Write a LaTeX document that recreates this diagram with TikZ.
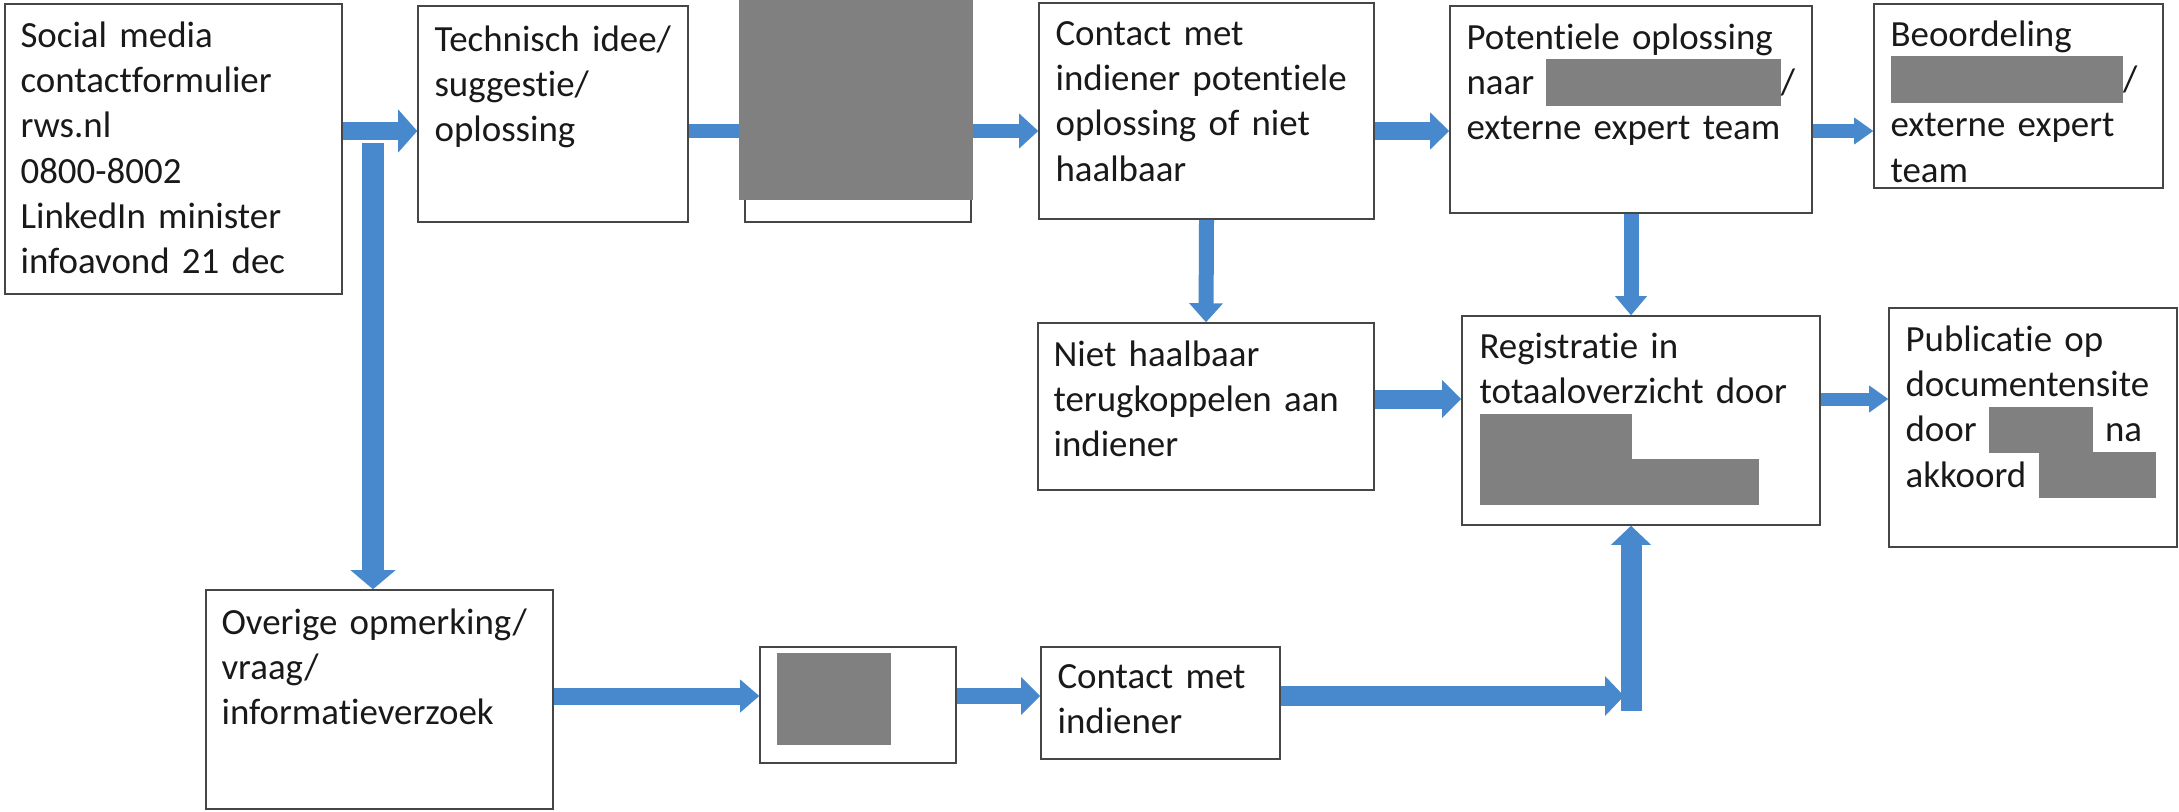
\documentclass[tikz,border=0pt]{standalone}
\usepackage{fontspec}
\setmainfont{Carlito}[Ligatures=NoCommon]
\usetikzlibrary{arrows.meta,fit}
\definecolor{flowblue}{RGB}{72,136,204}
\definecolor{redact}{RGB}{128,128,128}
\definecolor{boxline}{RGB}{70,70,70}
\definecolor{ink}{RGB}{25,25,25}
\newcommand{\redact}[1]{\textcolor{redact}{\rule[-0.3em]{#1}{1.25em}}}
\begin{document}
\begin{tikzpicture}
    [
    x=0.02cm, y=-0.02cm,
    box/.style={draw=boxline, line width=0.9pt, inner sep=0pt, fit={#1}},
    txt/.style={anchor=base west, text width=7cm, align=left, inner sep=0pt, text=ink,
      font={\fontsize{21}{25.8}\selectfont\lineskiplimit=-\maxdimen}},
    flow/.style 2 args={draw=flowblue, line width=#1,
      -{Triangle[length=0.38cm, width=#2, line width=0pt]}},
    shaft/.style={draw=flowblue, line width=#1},
    ]
    \useasboundingbox (0,0) rectangle (2179,811);

    % rows and joints of the arrows
    \coordinate (row1) at (0,131);
    \coordinate (row2) at (0,399);
    \coordinate (row3) at (0,696);
    \coordinate (split) at (373,143);
    \coordinate (merge) at (1631,711);
    \coordinate (mergein) at (1624,696);

    % boxes
    \node[box={(5,4) (342,294)}] (social) {};
    \node[box={(418,6) (688,222)}] (idee) {};
    \node[box={(745,6) (971,222)}] (check) {};
    \node[box={(1039,3) (1374,219)}] (contact) {};
    \node[box={(1450,6) (1812,213)}] (oplossing) {};
    \node[box={(1874,4) (2163,188)}] (beoordeling) {};
    \node[box={(1038,323) (1374,490)}] (niet) {};
    \node[box={(1462,316) (1820,525)}] (registratie) {};
    \node[box={(1889,308) (2177,547)}] (publicatie) {};
    \node[box={(206,590) (553,809)}] (overige) {};
    \node[box={(760,647) (956,763)}] (check2) {};
    \node[box={(1041,647) (1280,759)}] (contact2) {};

    % texts
    \node[txt] (social-t) at ([shift={(16,44)}]social.north west)
      {Social media\\contactformulier\\rws.nl\\0800-8002\\LinkedIn minister\\infoavond 21 dec};
    \node[txt] (idee-t) at ([shift={(17,46)}]idee.north west)
      {Technisch idee/\\suggestie/\\oplossing};
    \node[txt] (contact-t) at ([shift={(17,43)}]contact.north west)
      {Contact met\\indiener potentiele\\oplossing of niet\\haalbaar};
    \node[txt] (oplossing-t) at ([shift={(17,44)}]oplossing.north west)
      {Potentiele oplossing\\naar \redact{6.35em}/\\externe expert team};
    \node[txt] (beoordeling-t) at ([shift={(17,43)}]beoordeling.north west)
      {Beoordeling\\\redact{6.3em}/\\externe expert\\team};
    \node[txt] (niet-t) at ([shift={(16,44)}]niet.north west)
      {Niet haalbaar\\terugkoppelen aan\\indiener};
    \node[txt] (registratie-t) at ([shift={(18,43)}]registratie.north west)
      {Registratie in\\totaaloverzicht door\\\redact{4.14em}\\\redact{7.57em}};
    \node[txt] (publicatie-t) at ([shift={(17,44)}]publicatie.north west)
      {Publicatie op\\documentensite\\door \redact{2.81em} na\\akkoord \redact{3.19em}};
    \node[txt] (overige-t) at ([shift={(16,45)}]overige.north west)
      {Overige opmerking/\\vraag/\\informatieverzoek};
    \node[txt] (contact2-t) at ([shift={(17,42)}]contact2.north west)
      {Contact met\\indiener};

    % arrows
    \draw[flow={0.38cm}{0.86cm}] (social.east |- row1) -- (idee.west |- row1);
    \draw[shaft=0.28cm] (idee.east |- row1) -- (check.west |- row1);
    \draw[flow={0.30cm}{0.70cm}] (check.east |- row1) -- (contact.west |- row1);
    \draw[flow={0.36cm}{0.74cm}] (contact.east |- row1) -- (oplossing.west |- row1);
    \draw[flow={0.30cm}{0.54cm}] (oplossing.east |- row1) -- (beoordeling.west |- row1);
    \draw[flow={0.30cm}{0.68cm}] (contact.south) -- (niet.north);
    \draw[flow={0.30cm}{0.64cm}] (oplossing.south) -- (oplossing.south |- registratie.north);
    \draw[flow={0.38cm}{0.76cm}] (niet.east |- row2) -- (registratie.west |- row2);
    \draw[flow={0.26cm}{0.54cm}] (registratie.east |- row2) -- (publicatie.west |- row2);
    \draw[flow={0.44cm}{0.90cm}] (split) -- (split |- overige.north);
    \draw[flow={0.34cm}{0.66cm}] (overige.east |- row3) -- (check2.west |- row3);
    \draw[flow={0.32cm}{0.76cm}] (check2.east |- row3) -- (contact2.west |- row3);
    \draw[flow={0.40cm}{0.80cm}] (contact2.east |- row3) -- (mergein);
    \draw[flow={0.42cm}{0.80cm}] (merge) -- (merge |- registratie.south);

    % blacked out parts
    \fill[redact] (739,0) rectangle (973,200);
    \fill[redact] (777,653) rectangle (891,745);
\end{tikzpicture}
\end{document}
